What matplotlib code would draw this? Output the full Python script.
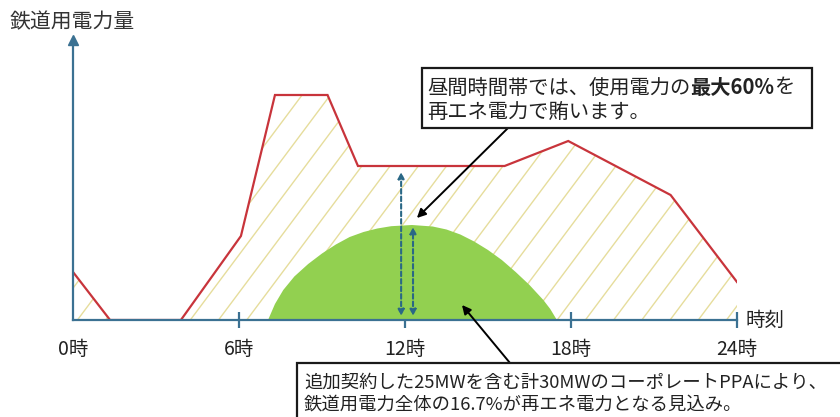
# 鉄道用電力量 vs 時刻 chart

import numpy as np
import matplotlib.pyplot as plt
from matplotlib.patches import Rectangle
from matplotlib.collections import LineCollection

plt.rcParams['font.family'] = ['Noto Sans CJK JP', 'DejaVu Sans']

# data (arbitrary units)
hours = [0, 1.34, 3.9, 6.07, 7.3, 9.2, 10.3, 15.6, 17.9, 21.6, 24]
power = [48, 0, 0, 84, 225, 225, 154, 154, 179, 125, 38]

solar_hours = [7.05, 7.3, 7.6, 8.0, 8.5, 9.0, 9.5, 10.0, 10.5, 11.0, 11.5, 12.25,
               13.0, 13.5, 14.0, 14.5, 15.0, 15.5, 16.0, 16.5, 17.0, 17.25, 17.49]
solar_power = [0, 16, 30, 43.5, 56, 66.5, 75.5, 83, 88, 91.5, 93.8, 95,
               93.5, 90.5, 85.5, 78.5, 70, 60, 48, 35, 20, 11, 0]

tick_hours = [0, 6, 12, 18, 24]
tick_labels = ['0時', '6時', '12時', '18時', '24時']

W, H = 840, 417
AX = '#3b7192'
RED = '#c8343b'
GREEN = '#92d050'
HATCH = '#e6dd9c'


def fx(px):
    return px / W


def fy(py):
    return 1 - py / H


fig = plt.figure(figsize=(W / 100, H / 100), dpi=100)
ax = fig.add_axes([fx(73), fy(320), (737 - 73) / W, (320 - 40) / H])
ax.set_xlim(0, 24)
ax.set_ylim(0, 280)

# hatched area under the demand curve
poly = ax.fill_between(hours, power, 0, facecolor='white', edgecolor='none', zorder=1)
segs = []
for x0 in np.arange(-8, 25, 1.02):
    segs.append([(x0, 0), (x0 + 280 / 37.0, 280)])
lc = LineCollection(segs, colors=HATCH, linewidths=1.0, zorder=1.5)
ax.add_collection(lc)
lc.set_clip_path(poly.get_paths()[0], ax.transData)

ax.plot(hours, power, color=RED, lw=1.6, zorder=2, solid_joinstyle='miter')
ax.fill(solar_hours, solar_power, color=GREEN, lw=0, zorder=3)

# dashed double arrows
plateau = power[6]
peak = max(solar_power)
for x, top in [(11.86, plateau - 6), (12.29, peak - 2)]:
    ax.annotate('', xy=(x, top), xytext=(x, 4),
                arrowprops=dict(arrowstyle='<|-|>', color='#2a6886', lw=1.5,
                                ls=(0, (2.2, 1.4)), mutation_scale=9,
                                shrinkA=0, shrinkB=0), zorder=4)

# axes styling
for s in ['top', 'right']:
    ax.spines[s].set_visible(False)
for s in ['left', 'bottom']:
    ax.spines[s].set_color(AX)
    ax.spines[s].set_linewidth(1.6)
    ax.spines[s].set_zorder(5)
ax.set_yticks([])
ax.set_xticks(tick_hours)
ax.set_xticklabels(tick_labels)
ax.tick_params(axis='x', direction='inout', length=11, width=1.6, color=AX,
               pad=8, labelsize=14, labelcolor='#222222')
ax.xaxis.get_major_ticks()[0].tick1line.set_visible(False)
ax.plot(0, 1, marker='^', ms=7, color=AX, transform=ax.transAxes, clip_on=False, zorder=6)
ax.text(24.3, 0, '時刻', va='center', ha='left', fontsize=14, color='#222222')

fig.text(fx(10), fy(22), '鉄道用電力量', va='center', ha='left', fontsize=15, color='#333333')

# callout boxes
fig.add_artist(Rectangle((fx(422), fy(128)), (812 - 422) / W, (128 - 68) / H,
                         transform=fig.transFigure, facecolor='white',
                         edgecolor='#1a1a1a', lw=1.6, zorder=10))
fig.add_artist(Rectangle((fx(297), fy(470)), (900 - 297) / W, (470 - 363) / H,
                         transform=fig.transFigure, facecolor='white',
                         edgecolor='#1a1a1a', lw=1.6, zorder=10))

ax.annotate('', xy=(12.43, 102), xycoords='data', xytext=(fx(508), fy(128)),
            textcoords='figure fraction',
            arrowprops=dict(arrowstyle='-|>', color='black', lw=1.4,
                            mutation_scale=13, shrinkA=0, shrinkB=0), zorder=8)
ax.annotate('', xy=(14.06, 15), xycoords='data', xytext=(fx(510), fy(363)),
            textcoords='figure fraction',
            arrowprops=dict(arrowstyle='-|>', color='black', lw=1.4,
                            mutation_scale=13, shrinkA=0, shrinkB=0), zorder=8)

renderer = fig.canvas.get_renderer()


def run_text(x, y, parts, size):
    # parts: list of (string, weight) drawn one after another
    for s, w in parts:
        t = fig.text(x, y, s, fontsize=size, fontweight=w, va='center', ha='left',
                     color='#222222', zorder=11)
        bb = t.get_window_extent(renderer)
        x = bb.x1 / W


run_text(fx(427), fy(88), [('昼間時間帯では、使用電力の', 'normal'),
                           ('最大60%', 'bold'), ('を', 'normal')], 14.6)
run_text(fx(427), fy(112), [('再エネ電力で賄います。', 'normal')], 14.6)
run_text(fx(304), fy(383), [('追加契約した25MWを含む計30MWのコーポレートPPAにより、', 'normal')], 13.2)
run_text(fx(304), fy(405), [('鉄道用電力全体の16.7%が再エネ電力となる見込み。', 'normal')], 13.2)

fig.savefig('out.png', dpi=100)
